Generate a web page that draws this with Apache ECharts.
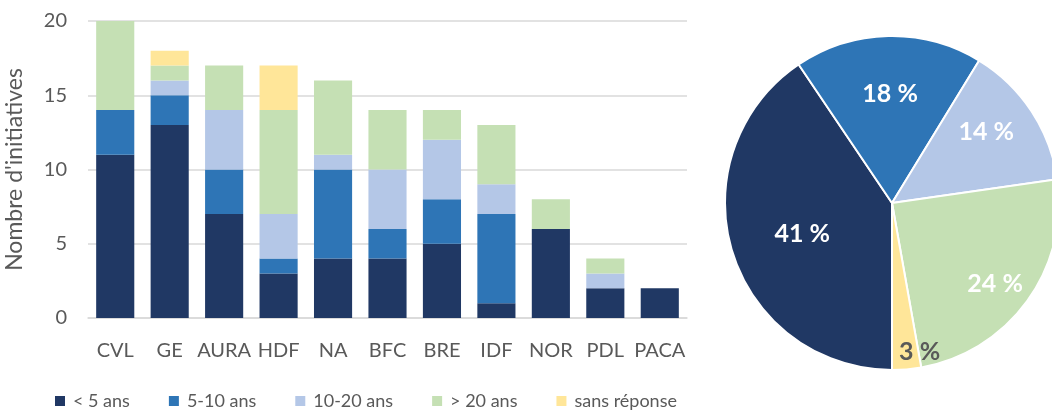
<!DOCTYPE html>
<html>
<head>
<meta charset="utf-8">
<script src="https://cdn.jsdelivr.net/npm/echarts@6/dist/echarts.min.js"></script>
<style>
  html, body { margin: 0; padding: 0; background: #ffffff; }
  #chart { width: 1052px; height: 411px; }
</style>
</head>
<body>
<div id="chart"></div>
<script>
// Regions, in the order they are shown on the axis
const regions = ['CVL', 'GE', 'AURA', 'HDF', 'NA', 'BFC', 'BRE', 'IDF', 'NOR', 'PDL', 'PACA'];

// Number of initiatives per region, split by age of the initiative
const lessThan5 = [11, 13, 7, 3, 4, 4, 5, 1, 6, 2, 2];
const from5to10 = [3, 2, 3, 1, 6, 2, 3, 6, 0, 0, 0];
const from10to20 = [0, 1, 4, 3, 1, 4, 4, 2, 0, 1, 0];
const moreThan20 = [6, 1, 3, 7, 5, 4, 2, 4, 2, 1, 0];
const noAnswer = [0, 1, 0, 3, 0, 0, 0, 0, 0, 0, 0];

const seriesNames = ['< 5 ans', '5-10 ans', '10-20 ans', '> 20 ans', 'sans réponse'];
const seriesValues = [lessThan5, from5to10, from10to20, moreThan20, noAnswer];
const colors = ['#203864', '#2E75B6', '#B4C7E7', '#C5E0B4', '#FFE699'];

const yTicks = { min: 0, max: 20, interval: 5 };

const textColor = '#595959';
const font = 'Lato, "Open Sans", sans-serif';

// Nudges for the percentage labels inside the pie slices
const pieLabelOffsets = [[-7, 6], [0, -23], [22, -24], [33, 30], [20, 63]];

const sum = arr => arr.reduce((a, b) => a + b, 0);

const barSeries = seriesNames.map((name, i) => ({
  name: name,
  type: 'bar',
  stack: 'age',
  barWidth: '70%',
  data: seriesValues[i],
  itemStyle: { color: colors[i] },
  emphasis: { disabled: true }
}));

// Share of all initiatives per age group
const pieData = seriesNames.map((name, i) => {
  const item = {
    name: name,
    value: sum(seriesValues[i]),
    itemStyle: { color: colors[i] },
    label: { offset: pieLabelOffsets[i] }
  };
  if (i === 4) {
    item.label.color = textColor;
  }
  return item;
});

const chart = echarts.init(document.getElementById('chart'), null, { renderer: 'canvas' });

chart.setOption({
  animation: false,
  backgroundColor: '#ffffff',
  textStyle: { fontFamily: font, color: textColor },
  grid: { left: 88, right: 365, top: 21, bottom: 93, containLabel: false, outerBoundsMode: 'none' },
  legend: {
    data: seriesNames,
    left: 50,
    top: 387,
    itemWidth: 10,
    itemHeight: 10,
    itemGap: 39,
    icon: 'rect',
    selectedMode: false,
    textStyle: { fontFamily: font, fontSize: 18, color: textColor, padding: [0, 0, 0, 3] }
  },
  xAxis: {
    type: 'category',
    data: regions,
    axisTick: { show: false },
    axisLine: { lineStyle: { color: '#D9D9D9', width: 1.5 } },
    axisLabel: { color: textColor, fontSize: 20, fontFamily: font, margin: 23, interval: 0 }
  },
  yAxis: {
    type: 'value',
    min: yTicks.min,
    max: yTicks.max,
    interval: yTicks.interval,
    name: "Nombre d'initiatives",
    nameLocation: 'middle',
    nameGap: 62,
    nameTextStyle: { color: textColor, fontSize: 23, fontFamily: font },
    axisLine: { show: false },
    axisTick: { show: false },
    axisLabel: { color: textColor, fontSize: 20, fontFamily: font, margin: 21 },
    splitLine: { lineStyle: { color: '#D9D9D9', width: 1.5 } }
  },
  series: barSeries.concat([{
    name: 'Répartition',
    type: 'pie',
    center: [892, 203],
    radius: 167,
    startAngle: 270,
    clockwise: true,
    percentPrecision: 0,
    avoidLabelOverlap: false,
    data: pieData,
    itemStyle: { borderColor: '#ffffff', borderWidth: 2 },
    label: {
      show: true,
      position: 'inside',
      formatter: '{d} %',
      color: '#ffffff',
      fontSize: 25,
      fontWeight: 'bold',
      fontFamily: font
    },
    labelLine: { show: false },
    emphasis: { disabled: true }
  }])
});
</script>
</body>
</html>
